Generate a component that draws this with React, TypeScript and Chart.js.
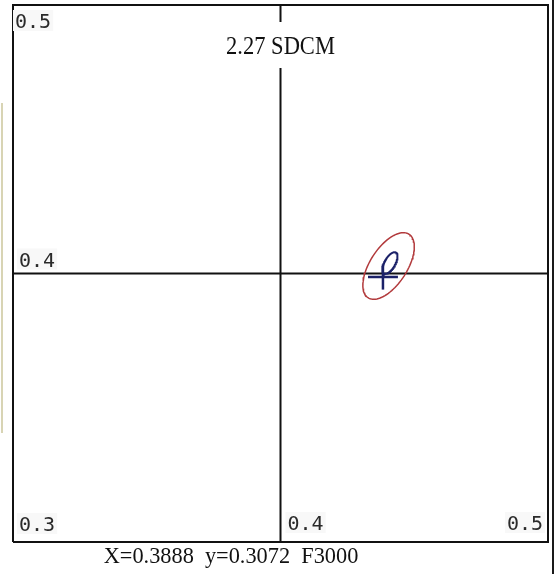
import React, { useEffect, useRef } from "react";
import { Chart, registerables } from "chart.js";

Chart.register(...registerables);

// ---- data ----
const xRange = [0.3, 0.5];
const yRange = [0.3, 0.5];
const crossX = 0.4;
const crossY = 0.4;
const xTickValues = [0.4, 0.5];
const xTickLabels = ["0.4", "0.5"];
const yTickValues = [0.5, 0.4, 0.3];
const yTickLabels = ["0.5", "0.4", "0.3"];
const titleText = "2.27 SDCM";
const readoutText = "X=0.3888  y=0.3072  F3000";

// tolerance ellipse (centre, semi-axes, tilt in degrees)
const ellipseCenter = [0.4404, 0.4028];
const ellipseAxes = [0.0141, 0.0069];
const ellipseAngleDeg = 57;

// measured point: cross mark and small loop
const markCenter = [0.4383, 0.3987];
const markHalf = [0.0056, 0.0047];
const loopCenter = [0.4409, 0.4039];
const loopAxes = [0.0045, 0.002];
const loopAngleDeg = 60;

function ellipsePoints(c: number[], ax: number[], deg: number, n = 96) {
  const t = (deg * Math.PI) / 180;
  const pts: { x: number; y: number }[] = [];
  for (let i = 0; i <= n; i++) {
    const a = (i / n) * Math.PI * 2;
    const ex = ax[0] * Math.cos(a);
    const ey = ax[1] * Math.sin(a);
    pts.push({
      x: c[0] + ex * Math.cos(t) - ey * Math.sin(t),
      y: c[1] + ex * Math.sin(t) + ey * Math.cos(t),
    });
  }
  return pts;
}

const decor = {
  id: "decor",
  beforeDraw(chart: any) {
    const { ctx, width, height } = chart;
    ctx.save();
    ctx.fillStyle = "#ffffff";
    ctx.fillRect(0, 0, width, height);
    ctx.restore();
  },
  afterDraw(chart: any) {
    const { ctx, chartArea: a, scales, width, height } = chart;
    const x = scales.x;
    const y = scales.y;
    ctx.save();

    // tick labels
    ctx.font = '20px "DejaVu Sans Mono"';
    ctx.textBaseline = "alphabetic";
    yTickValues.forEach((v, i) => {
      const py = y.getPixelForValue(v);
      const base = v === yRange[1] ? py + 23 : v === yRange[0] ? py - 11 : py - 7;
      const px = v === yRange[1] ? a.left + 2 : a.left + 6;
      const w = ctx.measureText(yTickLabels[i]).width;
      ctx.fillStyle = "#f8f8f8";
      ctx.fillRect(px - 2, base - 18, w + 4, 21);
      ctx.fillStyle = "#2a2a2a";
      ctx.textAlign = "left";
      ctx.fillText(yTickLabels[i], px, base);
    });
    xTickValues.forEach((v, i) => {
      const px = x.getPixelForValue(v);
      const base = a.bottom - 12;
      const w = ctx.measureText(xTickLabels[i]).width;
      const left = v === xRange[1] ? px - 5 - w : px + 7;
      ctx.fillStyle = "#f8f8f8";
      ctx.fillRect(left - 2, base - 18, w + 4, 21);
      ctx.fillStyle = "#2a2a2a";
      ctx.textAlign = "left";
      ctx.fillText(xTickLabels[i], left, base);
    });

    // title with white backing over the vertical line
    const cx = x.getPixelForValue(crossX);
    ctx.fillStyle = "#ffffff";
    ctx.fillRect(cx - 62, a.top + 17, 124, 46);
    ctx.save();
    ctx.translate(cx, a.top + 49);
    ctx.scale(0.9, 1);
    ctx.font = '25px "Liberation Serif"';
    ctx.textAlign = "center";
    ctx.fillStyle = "#111111";
    ctx.fillText(titleText, 0, 0);
    ctx.restore();

    // readout below the box
    ctx.save();
    ctx.translate(a.left + 218, a.bottom + 21);
    ctx.scale(0.93, 1);
    ctx.font = '24px "Liberation Serif"';
    ctx.textAlign = "center";
    ctx.fillStyle = "#111111";
    ctx.fillText(readoutText, 0, 0);
    ctx.restore();

    // window edges
    ctx.fillStyle = "#1a1a1a";
    ctx.fillRect(width - 2, 0, 2, height);
    ctx.fillStyle = "#d8d4b4";
    ctx.fillRect(1, 103, 2, 330);
    ctx.restore();
  },
};

export default function App() {
  const ref = useRef<HTMLCanvasElement | null>(null);
  useEffect(() => {
    if (!ref.current) return;
    const black = "#111111";
    const border = [
      { x: xRange[0], y: yRange[0] },
      { x: xRange[1], y: yRange[0] },
      { x: xRange[1], y: yRange[1] },
      { x: xRange[0], y: yRange[1] },
      { x: xRange[0], y: yRange[0] },
    ];
    const line = (data: any, color: string, w: number, order: number) => ({
      data,
      showLine: true,
      borderColor: color,
      borderWidth: w,
      pointRadius: 0,
      tension: 0,
      fill: false,
      clip: false as any,
      order,
    });
    const chart = new Chart(ref.current, {
      type: "scatter",
      data: {
        datasets: [
          line(border, black, 2, 5),
          line([{ x: xRange[0], y: crossY }, { x: xRange[1], y: crossY }], black, 2, 5),
          line([{ x: crossX, y: yRange[0] }, { x: crossX, y: yRange[1] }], black, 2, 5),
          line(ellipsePoints(ellipseCenter, ellipseAxes, ellipseAngleDeg), "#b23a3c", 1.5, 3),
          line(
            [
              { x: markCenter[0] - markHalf[0], y: markCenter[1] },
              { x: markCenter[0] + markHalf[0], y: markCenter[1] },
            ],
            "#1b2168",
            2.5,
            1
          ),
          line(
            [
              { x: markCenter[0], y: markCenter[1] - markHalf[1] },
              { x: markCenter[0], y: markCenter[1] + markHalf[1] },
            ],
            "#1b2168",
            2.5,
            1
          ),
          line(ellipsePoints(loopCenter, loopAxes, loopAngleDeg), "#1b2168", 2, 1),
        ],
      },
      options: {
        responsive: false,
        animation: false,
        layout: { padding: { left: 13, top: 5, right: 6, bottom: 32 } },
        scales: {
          x: { type: "linear", min: xRange[0], max: xRange[1], display: false },
          y: { type: "linear", min: yRange[0], max: yRange[1], display: false },
        },
        plugins: {
          legend: { display: false },
          tooltip: { enabled: false },
        },
      },
      plugins: [decor],
    });
    return () => chart.destroy();
  }, []);
  return (
    <div style={{ position: "absolute", left: 0, top: 0, width: 554, height: 574 }}>
      <canvas ref={ref} width={554} height={574} style={{ display: "block" }} />
    </div>
  );
}
